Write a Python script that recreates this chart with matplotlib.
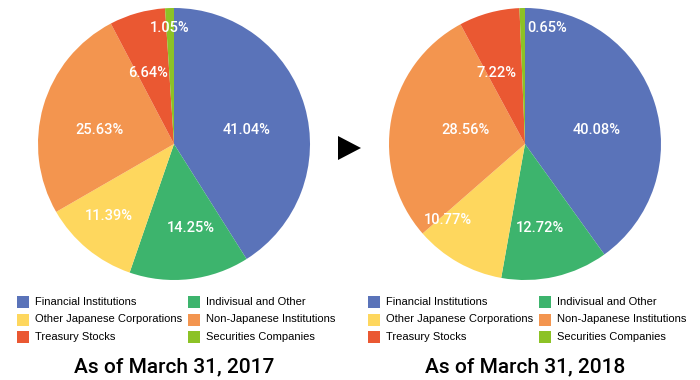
import matplotlib.pyplot as plt
from matplotlib.patches import Rectangle, Polygon

categories = ['Financial Institutions', 'Indivisual and Other',
              'Other Japanese Corporations', 'Non-Japanese Institutions',
              'Treasury Stocks', 'Securities Companies']
share_2017 = [41.04, 14.25, 11.39, 25.63, 6.64, 1.05]
share_2018 = [40.08, 12.72, 10.77, 28.56, 7.22, 0.65]
titles = ['As of March 31, 2017', 'As of March 31, 2018']

colors = ['#5a73b9', '#3db46d', '#fed75e', '#f3954f', '#ea5832', '#8cc226']

# label offsets in pie-radius units (layout only)
lab_2017 = [(0.53, 0.10), (0.12, -0.62), (-0.48, -0.53), (-0.55, 0.10), (-0.19, 0.52), (-0.03, 0.85)]
lab_2018 = [(0.53, 0.10), (0.11, -0.62), (-0.57, -0.56), (-0.44, 0.10), (-0.21, 0.52), (0.16, 0.85)]

W, H = 700, 380
fig = plt.figure(figsize=(7, 3.8), dpi=100)
plt.rcParams['font.family'] = ['Liberation Sans', 'DejaVu Sans']

def px(x, y):
    return x / W, 1 - y / H

for i, (vals, labs, title, cx) in enumerate([(share_2017, lab_2017, titles[0], 174),
                                              (share_2018, lab_2018, titles[1], 525)]):
    r = 136
    ax = fig.add_axes([(cx - r) / W, 1 - (144 + r) / H, 2 * r / W, 2 * r / H])
    ax.pie(vals, colors=colors, startangle=90, counterclock=False,
           wedgeprops=dict(linewidth=0))
    ax.set_xlim(-1, 1)
    ax.set_ylim(-1, 1)
    for v, (dx, dy) in zip(vals, labs):
        ax.text(dx, dy, '%.2f%%' % v, color='white', fontsize=10.5,
                family=['Roboto', 'DejaVu Sans'], fontweight='medium',
                ha='center', va='center')

    # legend
    x0 = cx - 157
    for k, name in enumerate(categories):
        row, col = k // 2, k % 2
        sx = x0 + col * 171
        sy = 302 + row * 17.5
        fig.add_artist(Rectangle(px(sx, sy + 6), 12 / W, 12 / H,
                                 transform=fig.transFigure, color=colors[k], lw=0))
        fig.text(*px(sx + 18, sy), name, fontsize=8, va='center', ha='left')

    fig.text(*px(cx, 367), title, fontsize=15, ha='center', va='center',
             family=['Roboto', 'DejaVu Sans'], fontweight='medium')

fig.add_artist(Polygon([px(338, 136), px(338, 160), px(361, 148)], closed=True,
                       transform=fig.transFigure, color='black', lw=0))

fig.savefig('out.png', dpi=100)
